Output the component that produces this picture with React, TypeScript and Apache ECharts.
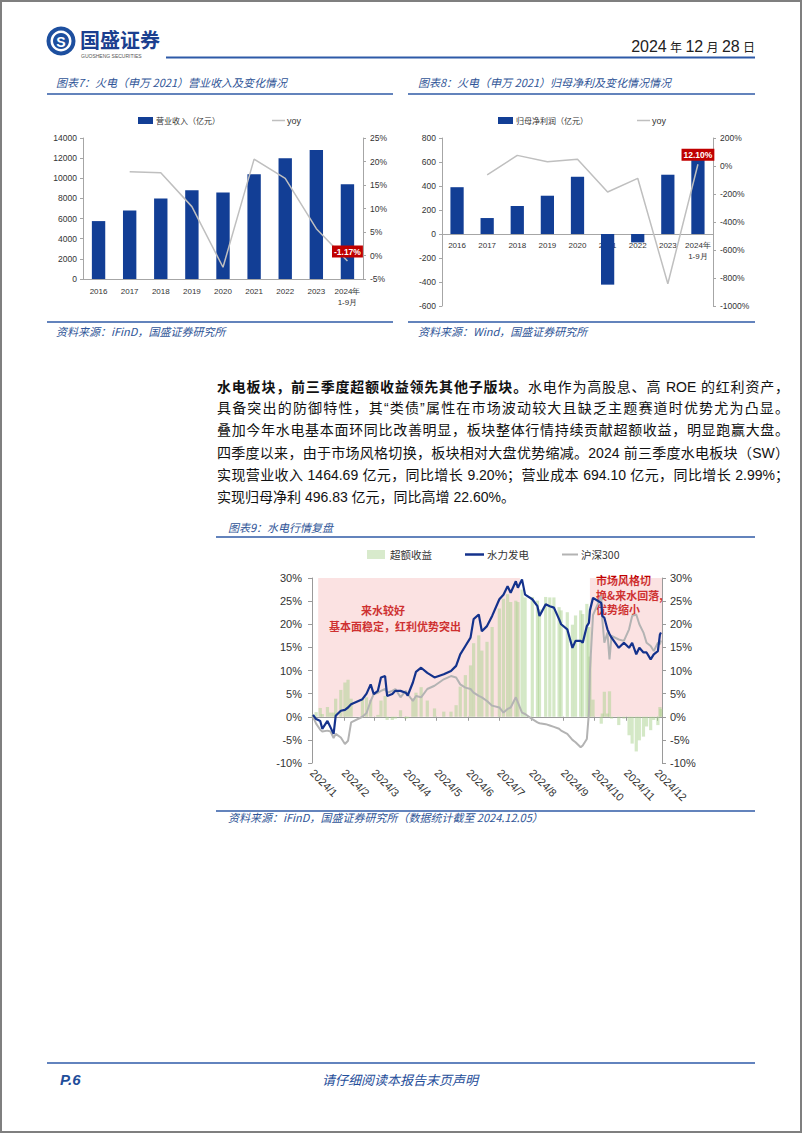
import React, { useEffect, useRef } from 'react';
import * as echarts from 'echarts';

// ---------- Data: charts 7 & 8 ----------
const yearCats = ['2016', '2017', '2018', '2019', '2020', '2021', '2022', '2023', '2024年\n1-9月'];
const revenue = [5750, 6800, 8000, 8800, 8600, 10400, 12000, 12800, 9400];
const revenueYoy = [null, 17.8, 17.6, 10.4, -2.5, 20.5, 16.4, 5.7, -1.17];
const netProfit = [390, 133, 233, 319, 477, -422, -70, 494, 650];
const netProfitYoy = [null, -64, 76, 31, 48, -186, -88, -841, 12.1];

// ---------- Data: chart 9 ----------
const sampleDates = [
  '2024-01-02', '2024-01-05', '2024-01-09', '2024-01-11', '2024-01-16', '2024-01-19', '2024-01-22', '2024-01-24', '2024-01-29', '2024-02-02',
  '2024-02-05', '2024-02-08', '2024-02-19', '2024-02-23', '2024-02-27', '2024-03-01', '2024-03-05', '2024-03-08', '2024-03-12', '2024-03-14',
  '2024-03-19', '2024-03-22', '2024-03-27', '2024-04-01', '2024-04-03', '2024-04-08', '2024-04-11', '2024-04-16', '2024-04-22', '2024-04-29',
  '2024-05-08', '2024-05-15', '2024-05-20', '2024-05-24', '2024-05-29', '2024-06-03', '2024-06-06', '2024-06-11', '2024-06-14', '2024-06-19',
  '2024-06-24', '2024-07-01', '2024-07-05', '2024-07-09', '2024-07-12', '2024-07-17', '2024-07-19', '2024-07-23', '2024-07-26', '2024-08-02',
  '2024-08-07', '2024-08-09', '2024-08-15', '2024-08-19', '2024-08-23', '2024-08-28', '2024-08-30', '2024-09-05', '2024-09-10', '2024-09-13',
  '2024-09-18', '2024-09-20', '2024-09-24', '2024-09-26', '2024-09-27', '2024-09-30', '2024-10-08', '2024-10-09', '2024-10-11', '2024-10-14',
  '2024-10-16', '2024-10-18', '2024-10-25', '2024-10-30', '2024-11-04', '2024-11-07', '2024-11-11', '2024-11-14', '2024-11-18', '2024-11-21',
  '2024-11-25', '2024-11-28', '2024-12-02', '2024-12-04', '2024-12-05',
];
const hydroPower = [
  0.4, -0.5, -0.9, -2.6, -0.9, -2.3, -3.7, 0.2, 1.3, 1.5,
  2.0, 2.7, 3.8, 5.0, 7.0, 4.9, 5.6, 8.5, 8.8, 4.5,
  4.9, 5.6, 5.6, 5.2, 4.6, 7.4, 9.7, 10.6, 9.5, 8.5,
  9.2, 9.9, 11.0, 13.5, 15.3, 17.1, 21.1, 22.1, 18.5, 19.6,
  21.8, 25.4, 26.4, 28.2, 26.8, 29.3, 27.9, 29.7, 26.4, 25.4,
  23.9, 21.8, 24.3, 23.9, 23.6, 21.1, 20.0, 18.9, 14.9, 16.4,
  16.4, 16.0, 19.6, 20.3, 23.0, 25.7, 24.6, 21.8, 21.4, 18.9,
  17.9, 17.1, 14.9, 16.0, 14.9, 16.0, 13.5, 14.9, 13.9, 13.9,
  12.4, 13.5, 14.2, 17.8, 18.2,
];
const hs300 = [
  0.0, -1.5, -2.8, -3.2, -3.0, -3.2, -4.6, -3.7, -4.5, -5.9,
  -5.2, -1.2, 0.0, 0.8, 3.4, 4.9, 5.2, 5.6, 6.0, 5.2,
  5.6, 6.0, 4.2, 5.6, 4.9, 3.4, 4.5, 4.2, 6.0, 6.7,
  8.1, 8.8, 8.5, 7.0, 6.3, 6.0, 5.2, 4.5, 4.2, 3.4,
  2.4, 2.0, 0.9, 1.7, 2.0, 4.2, 3.1, 0.9, 0.6, -0.5,
  -1.2, -1.4, -1.6, -1.9, -2.2, -2.6, -3.0, -3.7, -5.0, -5.5,
  -6.6, -6.2, -4.8, 0.9, 10.0, 22.0, 26.1, 21.1, 16.0, 18.2,
  12.4, 17.5, 16.7, 16.4, 18.9, 21.8, 22.1, 20.0, 18.2, 16.0,
  15.3, 14.2, 16.0, 15.7, 16.5,
];
const excessReturn = [
  0.4, 1.0, 1.9, 0.6, 2.1, 0.9, 0.9, 3.9, 5.8, 7.4,
  8.0, 3.9, 3.8, 4.2, 3.6, 0.0, 0.4, 3.5, 4.5, -0.7,
  -0.7, -0.4, 1.4, -0.4, -0.3, 4.0, 5.2, 6.4, 3.5, 1.8,
  1.1, 1.1, 2.5, 6.5, 9.0, 11.1, 15.9, 17.6, 14.3, 16.2,
  19.4, 23.4, 25.5, 26.5, 24.8, 25.1, 24.8, 27.5, 25.8, 25.9,
  25.1, 23.2, 25.9, 25.8, 25.8, 23.7, 23.0, 22.6, 19.9, 21.9,
  23.0, 22.2, 24.4, 19.4, 13.0, 3.7, -1.5, 0.7, 5.4, 0.7,
  5.5, -0.4, -1.8, -0.4, -4.0, -5.8, -7.5, -5.1, -4.3, -2.1,
  -2.9, -0.7, -1.8, 2.1, 1.7,
];
const shadedPeriods = [
  ['2024-01-07', '2024-07-21'],
  ['2024-09-27', '2024-12-06'],
];

// calendar-day axis (Jan 1 – Dec 6, 2024)
const dayCats: string[] = [];
for (let d = new Date(Date.UTC(2024, 0, 1)); d <= new Date(Date.UTC(2024, 11, 6)); d.setUTCDate(d.getUTCDate() + 1)) {
  dayCats.push(d.toISOString().slice(0, 10));
}

const CN = '"Noto Sans CJK SC", sans-serif';
const NUM = '"Liberation Sans", Arial, sans-serif';
const NAVY = '#123e95';
const BLUE_LINE = '#2f5aa6';
const TITLE_BLUE = '#2f5597';
const AXIS_GREY = '#a6a6a6';
const YOY_GREY = '#bfbfbf';

const isMonthStart = (_i: number, v: string) => v.slice(8, 10) === '01';
const plain = (v: number) => String(v);
const pct = (v: number) => v + '%';

function buildOption(): any {
  const zip = (vals: number[]) => sampleDates.map((d, i) => [d, vals[i]]);
  const lastLabel = (arr: (number | null)[], text: string) =>
    arr.map((v, i) =>
      i === arr.length - 1
        ? {
            value: v,
            label: {
              show: true,
              position: 'top',
              distance: 3,
              formatter: text,
              backgroundColor: '#c00000',
              color: '#fff',
              fontWeight: 'bold',
              fontSize: 8.5,
              fontFamily: NUM,
              padding: [2, 2, 1, 2],
            },
          }
        : v,
    );

  const smallAxis = (extra: any) => ({
    axisLine: { show: true, lineStyle: { color: AXIS_GREY, width: 1 } },
    axisTick: { show: true, length: 3, lineStyle: { color: AXIS_GREY } },
    splitLine: { show: false },
    axisLabel: { fontSize: 8.5, fontFamily: NUM, color: '#333', margin: 6, formatter: plain },
    ...extra,
  });

  const text = (x: number, y: number, t: string, s: any = {}) => ({
    type: 'text',
    x,
    y,
    silent: true,
    style: { text: t, fill: '#333', fontSize: 11, fontFamily: CN, textVerticalAlign: 'middle', ...s },
  });
  const hline = (x1: number, x2: number, y: number, color = BLUE_LINE, w = 1.5) => ({
    type: 'line',
    silent: true,
    shape: { x1, y1: y, x2, y2: y },
    style: { stroke: color, lineWidth: w },
  });
  const rect = (x: number, y: number, w: number, h: number, fill: string) => ({
    type: 'rect',
    silent: true,
    shape: { x, y, width: w, height: h },
    style: { fill },
  });

  const titleStyle = { fill: TITLE_BLUE, fontSize: 11, fontStyle: 'italic' };
  const noteStyle = { fill: '#c00000', fontSize: 11, fontWeight: 'bold' };

  const graphic: any[] = [
    // page border
    { type: 'rect', silent: true, shape: { x: 1, y: 1, width: 800, height: 1131 }, style: { fill: 'none', stroke: '#7f7f7f', lineWidth: 2 } },
    // logo
    { type: 'circle', silent: true, shape: { cx: 61, cy: 41, r: 14.5 }, style: { fill: '#1d4f9f' } },
    { type: 'circle', silent: true, shape: { cx: 61, cy: 41, r: 10.5 }, style: { fill: '#fff' } },
    { type: 'circle', silent: true, shape: { cx: 61, cy: 41, r: 8 }, style: { fill: '#1d4f9f' } },
    text(61, 41.5, 'S', { fill: '#fff', fontSize: 14, fontWeight: 'bold', fontFamily: NUM, textAlign: 'center' }),
    text(80, 39, '国盛证券', { fill: '#1b3f8f', fontSize: 20, fontWeight: 'bold' }),
    text(81, 55.5, 'GUOSHENG SECURITIES', { fill: '#555', fontSize: 5, fontFamily: NUM }),
    {
      type: 'text',
      x: 755,
      y: 46,
      silent: true,
      style: {
        text: '{n|2024} {c|年} {n|12} {c|月} {n|28} {c|日}',
        textAlign: 'right',
        textVerticalAlign: 'middle',
        fill: '#222',
        rich: {
          n: { fontSize: 16, fontFamily: NUM, fill: '#222' },
          c: { fontSize: 12, fontFamily: CN, fill: '#222' },
        },
      },
    },
    hline(166, 755, 57.5, '#2e5aa8', 2),

    // chart 7 title & source
    text(56, 82, '图表7：火电（申万 2021）营业收入及变化情况', titleStyle),
    hline(47, 393, 94),
    hline(47, 393, 322),
    text(56, 331, '资料来源：iFinD，国盛证券研究所', titleStyle),
    // chart 7 legend
    rect(138, 117, 15, 7, NAVY),
    text(156, 120.5, '营业收入（亿元）', { fontSize: 8 }),
    hline(272, 285, 120.5, YOY_GREY, 1.5),
    text(287, 120.5, 'yoy', { fontSize: 9, fontFamily: NUM }),

    // chart 8 title & source
    text(418, 82, '图表8：火电（申万 2021）归母净利及变化情况情况', titleStyle),
    hline(408, 755, 94),
    hline(408, 755, 322),
    text(418, 331, '资料来源：Wind，国盛证券研究所', titleStyle),
    rect(498, 117, 15, 7, NAVY),
    text(516, 120.5, '归母净利润（亿元）', { fontSize: 8 }),
    hline(637, 650, 120.5, YOY_GREY, 1.5),
    text(652, 120.5, 'yoy', { fontSize: 9, fontFamily: NUM }),

    // chart 9 title, legend, notes, source
    text(228, 527, '图表9：水电行情复盘', titleStyle),
    hline(216, 755, 537),
    rect(367, 550, 18, 9, 'rgba(169,209,142,0.45)'),
    text(390, 554.5, '超额收益', { fontSize: 10.5 }),
    hline(465, 484, 554.5, '#14328c', 2.5),
    text(487, 554.5, '水力发电', { fontSize: 10.5 }),
    hline(562, 578, 554.5, '#b3b3b3', 2),
    text(581, 554.5, '沪深300', { fontSize: 10.5 }),
    text(383, 610, '来水较好', { ...noteStyle, textAlign: 'center' }),
    text(395, 626, '基本面稳定，红利优势突出', { ...noteStyle, textAlign: 'center' }),
    text(596, 580, '市场风格切', noteStyle),
    text(596, 595, '换&来水回落,', noteStyle),
    text(596, 609, '优势缩小', noteStyle),
    hline(216, 755, 811),
    text(228, 817, '资料来源：iFinD，国盛证券研究所（数据统计截至 2024.12.05）', titleStyle),

    // footer
    hline(47, 755, 1063, '#2e5aa8', 1.5),
    text(60, 1079, 'P.6', { fill: '#1f4e9a', fontSize: 15, fontWeight: 'bold', fontStyle: 'italic', fontFamily: NUM }),
    text(400, 1079, '请仔细阅读本报告末页声明', { fill: '#1f4e9a', fontSize: 13, fontStyle: 'italic', textAlign: 'center' }),
  ];

  return {
    animation: false,
    backgroundColor: '#ffffff',
    grid: [
      { left: 83, top: 138, width: 280, height: 141 },
      { left: 442, top: 138, width: 271, height: 168 },
      { left: 312, top: 578, width: 350, height: 185 },
    ],
    xAxis: [
      smallAxis({
        type: 'category', gridIndex: 0, data: yearCats,
        axisTick: { show: false },
        axisLabel: { fontSize: 8, fontFamily: NUM, color: '#333', margin: 7, lineHeight: 11, interval: 0 },
      }),
      smallAxis({
        type: 'category', gridIndex: 1, data: yearCats,
        axisLine: { show: true, onZero: false, lineStyle: { color: AXIS_GREY, width: 1 } },
        offset: -72,
        axisTick: { show: false },
        axisLabel: { fontSize: 8, fontFamily: NUM, color: '#333', margin: 6, lineHeight: 11, interval: 0 },
      }),
      {
        type: 'category', gridIndex: 2, data: dayCats, boundaryGap: false, position: 'bottom',
        axisLine: { show: false, onZero: false },
        axisTick: { show: false },
        axisLabel: {
          interval: isMonthStart,
          rotate: -45,
          margin: 8,
          fontSize: 11,
          fontFamily: NUM,
          color: '#333',
          formatter: (v: string) => '2024/' + Number(v.slice(5, 7)),
        },
        splitLine: { show: false },
      },
      {
        type: 'category', gridIndex: 2, data: dayCats, boundaryGap: false, position: 'top',
        axisLine: { show: true, onZero: true, lineStyle: { color: '#9a9a9a', width: 1 } },
        axisTick: { show: true, inside: true, length: 4, interval: isMonthStart, lineStyle: { color: '#9a9a9a' } },
        axisLabel: { show: false },
        splitLine: { show: false },
      },
    ],
    yAxis: [
      smallAxis({ type: 'value', gridIndex: 0, min: 0, max: 14000, interval: 2000 }),
      smallAxis({
        type: 'value', gridIndex: 0, position: 'right', min: -5, max: 25, interval: 5,
        axisLabel: { fontSize: 8.5, fontFamily: NUM, color: '#333', margin: 7, formatter: pct },
      }),
      smallAxis({ type: 'value', gridIndex: 1, min: -600, max: 800, interval: 200 }),
      smallAxis({
        type: 'value', gridIndex: 1, position: 'right', min: -1000, max: 200, interval: 200,
        axisLabel: { fontSize: 8.5, fontFamily: NUM, color: '#333', margin: 7, formatter: pct },
      }),
      {
        type: 'value', gridIndex: 2, min: -10, max: 30, interval: 5,
        axisLine: { show: true, lineStyle: { color: '#9a9a9a' } },
        axisTick: { show: true, length: 4, lineStyle: { color: '#9a9a9a' } },
        splitLine: { show: false },
        axisLabel: { fontSize: 11, fontFamily: NUM, color: '#333', margin: 10, formatter: pct },
      },
      {
        type: 'value', gridIndex: 2, position: 'right', min: -10, max: 30, interval: 5,
        axisLine: { show: true, lineStyle: { color: '#9a9a9a' } },
        axisTick: { show: true, length: 4, lineStyle: { color: '#9a9a9a' } },
        splitLine: { show: false },
        axisLabel: { fontSize: 11, fontFamily: NUM, color: '#333', margin: 8, formatter: pct },
      },
    ],
    series: [
      {
        name: '营业收入（亿元）', type: 'bar', xAxisIndex: 0, yAxisIndex: 0, data: revenue,
        barWidth: '43%', itemStyle: { color: NAVY },
      },
      {
        name: 'yoy', type: 'line', xAxisIndex: 0, yAxisIndex: 1, data: lastLabel(revenueYoy, '-1.17%'),
        symbol: 'circle', symbolSize: 1, showSymbol: true, itemStyle: { color: 'rgba(0,0,0,0)' },
        lineStyle: { color: YOY_GREY, width: 1.5 }, z: 3,
      },
      {
        name: '归母净利润（亿元）', type: 'bar', xAxisIndex: 1, yAxisIndex: 2, data: netProfit,
        barWidth: '44%', itemStyle: { color: NAVY },
      },
      {
        name: 'yoy ', type: 'line', xAxisIndex: 1, yAxisIndex: 3, data: lastLabel(netProfitYoy, '12.10%'),
        symbol: 'circle', symbolSize: 1, showSymbol: true, itemStyle: { color: 'rgba(0,0,0,0)' },
        lineStyle: { color: YOY_GREY, width: 1.5 }, z: 3,
      },
      {
        name: '超额收益', type: 'bar', xAxisIndex: 2, yAxisIndex: 4, data: zip(excessReturn),
        barWidth: 3.2, itemStyle: { color: 'rgba(169,209,142,0.5)' }, z: 1,
      },
      {
        name: 'shade', type: 'line', xAxisIndex: 2, yAxisIndex: 4, data: [], z: 2, silent: true,
        markArea: {
          silent: true,
          itemStyle: { color: 'rgba(242,160,160,0.3)' },
          label: { show: false },
          data: shadedPeriods.map(([a, b]) => [{ xAxis: a, yAxis: 0 }, { xAxis: b, yAxis: 31 }]),
        },
      },
      {
        name: '沪深300', type: 'line', xAxisIndex: 2, yAxisIndex: 4, data: zip(hs300),
        symbol: 'none', lineStyle: { color: '#b3b3b3', width: 2 }, z: 3,
      },
      {
        name: '水力发电', type: 'line', xAxisIndex: 2, yAxisIndex: 4, data: zip(hydroPower),
        symbol: 'none', lineStyle: { color: '#14328c', width: 2.2 }, z: 4,
      },
    ],
    graphic,
  };
}

const paraLines: { bold?: string; text: string; justify: boolean }[] = [
  { bold: '水电板块，前三季度超额收益领先其他子版块。', text: '水电作为高股息、高 ROE 的红利资产，', justify: true },
  { text: '具备突出的防御特性，其“类债”属性在市场波动较大且缺乏主题赛道时优势尤为凸显。', justify: true },
  { text: '叠加今年水电基本面环同比改善明显，板块整体行情持续贡献超额收益，明显跑赢大盘。', justify: true },
  { text: '四季度以来，由于市场风格切换，板块相对大盘优势缩减。2024 前三季度水电板块（SW）', justify: true },
  { text: '实现营业收入 1464.69 亿元，同比增长 9.20%；营业成本 694.10 亿元，同比增长 2.99%；', justify: true },
  { text: '实现归母净利 496.83 亿元，同比高增 22.60%。', justify: false },
];

export default function App() {
  const ref = useRef<HTMLDivElement>(null);
  useEffect(() => {
    document.body.style.margin = '0';
    const chart = echarts.init(ref.current!, undefined, { renderer: 'svg' });
    chart.setOption(buildOption());
    return () => chart.dispose();
  }, []);
  return (
    <div style={{ position: 'absolute', left: 0, top: 0, width: 802, height: 1133, background: '#fff', overflow: 'hidden' }}>
      <div ref={ref} style={{ position: 'absolute', left: 0, top: 0, width: 802, height: 1133 }} />
      <div
        style={{
          position: 'absolute',
          left: 217,
          top: 375,
          width: 572,
          fontFamily: '"Liberation Sans", "Noto Sans CJK SC", sans-serif',
          fontSize: 14,
          color: '#111',
          lineHeight: '22.2px',
        }}
      >
        {paraLines.map((l, i) => (
          <div
            key={i}
            style={{
              height: 22.2,
              whiteSpace: 'nowrap',
              textAlign: l.justify ? 'justify' : 'left',
              textAlignLast: l.justify ? 'justify' : 'left',
            }}
          >
            {l.bold ? <b style={{ fontFamily: '"Noto Sans CJK SC", sans-serif' }}>{l.bold}</b> : null}
            {l.text}
          </div>
        ))}
      </div>
    </div>
  );
}
